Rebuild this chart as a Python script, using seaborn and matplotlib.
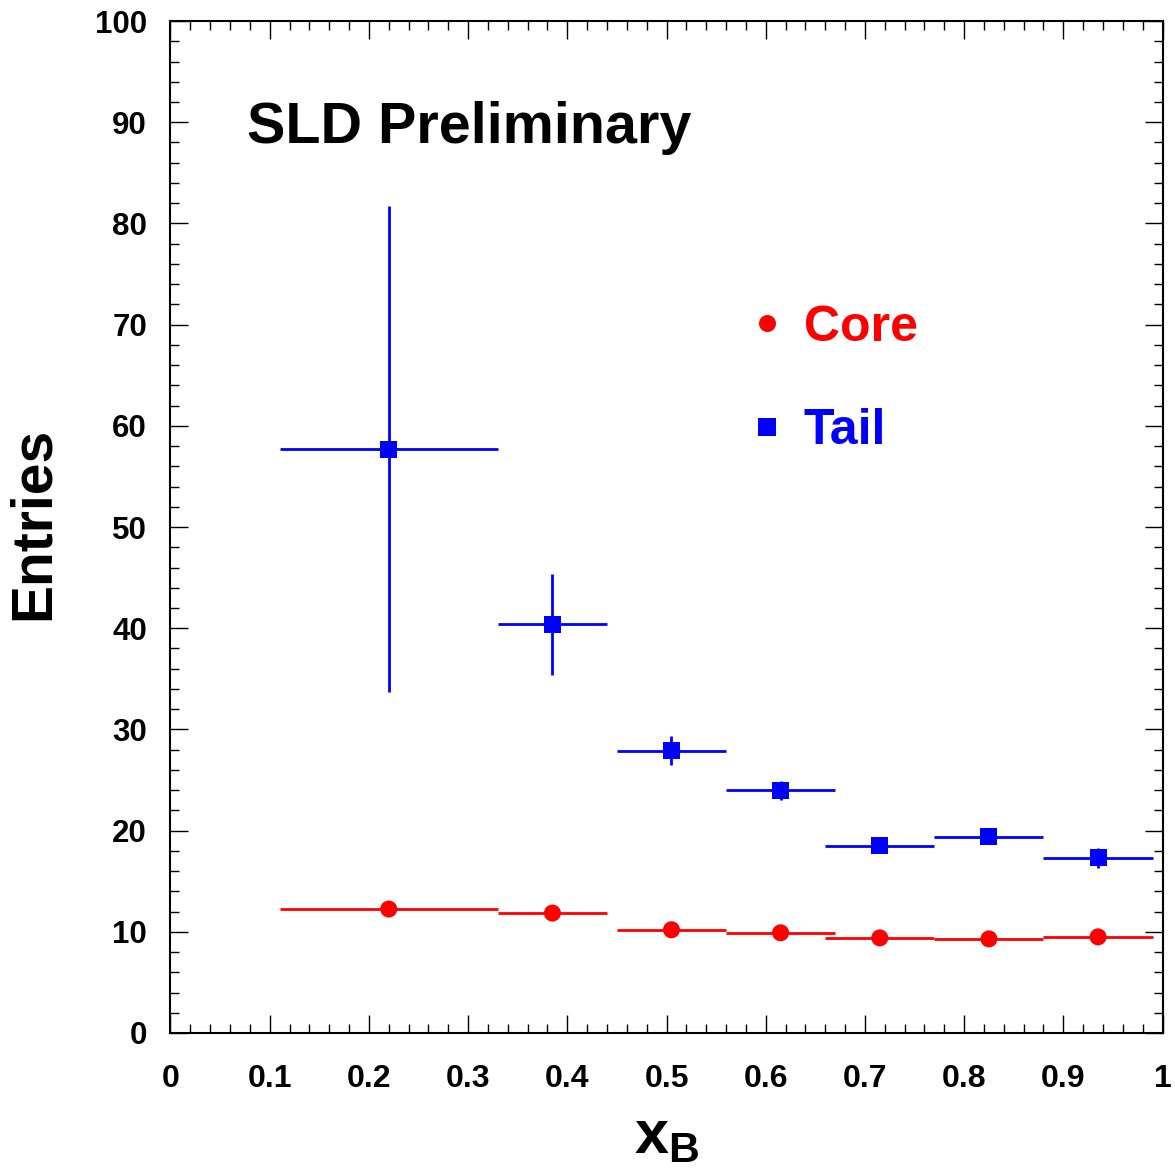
import numpy as np
import pandas as pd
import matplotlib
matplotlib.use("Agg")
import matplotlib.pyplot as plt
from matplotlib.ticker import MultipleLocator, FixedLocator, FixedFormatter
import seaborn as sns

# ---- data ----
x_centers = [0.22, 0.385, 0.505, 0.615, 0.715, 0.825, 0.935]
x_halfwidth = [0.11, 0.055, 0.055, 0.055, 0.055, 0.055, 0.055]
core_values = [12.25, 11.85, 10.2, 9.9, 9.4, 9.3, 9.5]
core_errors = [0.4, 0.4, 0.35, 0.35, 0.3, 0.3, 0.3]
tail_values = [57.7, 40.4, 27.9, 24.0, 18.5, 19.4, 17.3]
tail_errors = [24.0, 5.0, 1.4, 0.95, 0.6, 0.6, 1.0]
x_ticks = [0, 0.1, 0.2, 0.3, 0.4, 0.5, 0.6, 0.7, 0.8, 0.9, 1.0]
x_tick_labels = ["0", "0.1", "0.2", "0.3", "0.4", "0.5", "0.6", "0.7", "0.8", "0.9", "1"]
y_ticks = [0, 10, 20, 30, 40, 50, 60, 70, 80, 90, 100]
series_names = ["Core", "Tail"]
series_colors = {"Core": "#ff0000", "Tail": "#0000ff"}
series_markers = {"Core": "o", "Tail": "s"}

df = pd.DataFrame({
    "x": x_centers * 2,
    "y": core_values + tail_values,
    "series": ["Core"] * len(x_centers) + ["Tail"] * len(x_centers),
})

sns.set_theme(style="ticks")
plt.rcParams["font.family"] = ["Liberation Sans", "DejaVu Sans"]
plt.rcParams["font.weight"] = "bold"
plt.rcParams["text.color"] = "black"
plt.rcParams["axes.labelcolor"] = "black"
plt.rcParams["xtick.color"] = "black"
plt.rcParams["ytick.color"] = "black"
plt.rcParams["mathtext.fontset"] = "custom"
plt.rcParams["mathtext.bf"] = "Liberation Sans:bold"
plt.rcParams["mathtext.rm"] = "Liberation Sans:bold"

fig = plt.figure(figsize=(11.75, 11.76), dpi=100)
ax = fig.add_axes([0.1451, 0.1216, 0.8443, 0.8605])

# error bars
ax.errorbar(x_centers, core_values, xerr=x_halfwidth, yerr=core_errors, fmt="none",
            ecolor=series_colors["Core"], elinewidth=2.0, capsize=0, zorder=2)
ax.errorbar(x_centers, tail_values, xerr=x_halfwidth, yerr=tail_errors, fmt="none",
            ecolor=series_colors["Tail"], elinewidth=2.0, capsize=0, zorder=2)

sns.scatterplot(data=df, x="x", y="y", hue="series", style="series",
                hue_order=series_names, style_order=series_names,
                palette=series_colors, markers=series_markers, s=150,
                linewidth=0, ax=ax, zorder=3)

ax.set_xlim(0, 1)
ax.set_ylim(0, 100)

ax.xaxis.set_major_locator(FixedLocator(x_ticks))
ax.xaxis.set_major_formatter(FixedFormatter(x_tick_labels))
ax.xaxis.set_minor_locator(MultipleLocator(0.02))
ax.yaxis.set_major_locator(FixedLocator(y_ticks))
ax.yaxis.set_minor_locator(MultipleLocator(2))

ax.tick_params(which="both", direction="in", top=True, right=True,
               color="black", labelcolor="black", width=1.0)
ax.tick_params(which="major", length=13)
ax.tick_params(which="minor", length=6.5)
ax.tick_params(axis="x", which="major", labelsize=23, pad=22)
ax.tick_params(axis="y", which="major", labelsize=22.5, pad=17)
for lab in ax.get_xticklabels() + ax.get_yticklabels():
    lab.set_fontweight("bold")

for sp in ax.spines.values():
    sp.set_linewidth(1.5)
    sp.set_color("black")

ax.set_xlabel(r"$\mathbf{x}_{\mathbf{B}}$", fontsize=44, va="baseline")
ax.xaxis.set_label_coords(0.5, -0.1186)
ax.set_ylabel("Entries", fontsize=41, fontweight="bold", va="center")
ax.yaxis.set_label_coords(-0.1376, 0.504)

ax.text(0.077, 0.879, "SLD Preliminary", transform=ax.transAxes, fontsize=41.4,
        fontweight="bold", ha="left", va="baseline", color="black")

handles, labels = ax.get_legend_handles_labels()
ax.legend(handles, labels, loc="center left", bbox_to_anchor=(0.581, 0.646),
          frameon=False, prop={"size": 36, "weight": "bold"},
          labelcolor=[series_colors[n] for n in series_names],
          handlelength=0.8, handletextpad=0.34, borderpad=0, borderaxespad=0,
          labelspacing=1.15, markerscale=1.0)

fig.savefig("out.png", dpi=100)
